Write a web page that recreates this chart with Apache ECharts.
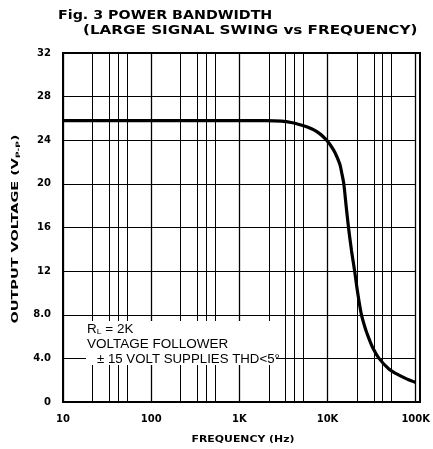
<!DOCTYPE html>
<html>
<head>
<meta charset="utf-8">
<script src="https://cdn.jsdelivr.net/npm/echarts@6/dist/echarts.min.js"></script>
<style>
  html, body { margin: 0; padding: 0; background: #fff; }
  #chart { width: 433px; height: 449px; }
</style>
</head>
<body>
<div id="chart"></div>
<script>
// frequency (Hz) and output voltage (Vp-p)
var freqs = [10, 1000, 2000, 3000, 4000, 5000, 6000, 7000, 8000, 9000, 10000, 11000, 12100, 13800, 14500, 15300, 16300, 17300, 18700, 20300, 22000, 24100, 26000, 28000, 32500, 38400, 50000, 60000, 80000, 100000];
var volts = [25.8, 25.8, 25.8, 25.75, 25.6, 25.4, 25.2, 24.95, 24.65, 24.3, 23.9, 23.45, 22.9, 21.8, 21.0, 20.0, 17.9, 16.0, 13.9, 12.0, 10.0, 8.1, 7.1, 6.3, 5.0, 4.0, 3.0, 2.6, 2.1, 1.8];

// x tick labels at each decade
var xTickValues = [10, 100, 1000, 10000, 100000];
var xTickLabels = ['10', '100', '1K', '10K', '100K'];
// y tick labels
var yTickLabels = {0: '0', 4: '4.0', 8: '8.0', 12: '12', 16: '16', 20: '20', 24: '24', 28: '28', 32: '32'};
// extra vertical grid lines inside each decade (as printed on the sheet)
var minorSteps = [2.16, 3.35, 4.23, 5.33];
var decades = [10, 100, 1000, 10000];

var chart = echarts.init(document.getElementById('chart'));

var minorLines = [];
decades.forEach(function (d) {
  minorSteps.forEach(function (m) {
    minorLines.push({ xAxis: d * m });
  });
});

var points = freqs.map(function (f, i) { return [f, volts[i]]; });

var boldFont = 'DejaVu Sans';

chart.setOption({
  animation: false,
  backgroundColor: '#fff',
  grid: { left: 63, right: 13, top: 53, bottom: 47 },
  xAxis: {
    type: 'log',
    logBase: 10,
    min: 10,
    max: 100000,
    axisLine: { show: true, lineStyle: { color: '#000', width: 2 } },
    axisTick: { show: false },
    splitLine: { show: true, lineStyle: { color: '#000', width: 1.3 } },
    axisLabel: {
      color: '#000',
      fontFamily: boldFont,
      fontWeight: 'bold',
      fontSize: 10,
      margin: 12,
      formatter: function (v) {
        var i = xTickValues.indexOf(Math.round(v));
        return i >= 0 ? xTickLabels[i] : '';
      }
    }
  },
  yAxis: {
    type: 'value',
    min: 0,
    max: 32,
    interval: 4,
    axisLine: { show: true, lineStyle: { color: '#000', width: 2 } },
    axisTick: { show: false },
    splitLine: { show: true, lineStyle: { color: '#000', width: 1.2 } },
    axisLabel: {
      color: '#000',
      fontFamily: boldFont,
      fontWeight: 'bold',
      fontSize: 10,
      margin: 12,
      formatter: function (v) { return yTickLabels[v]; }
    }
  },
  graphic: [
    // frame on right and top
    {
      type: 'rect', z: 50, silent: true,
      shape: { x: 63, y: 53, width: 357, height: 349 },
      style: { fill: 'none', stroke: '#000', lineWidth: 2 }
    },
    {
      type: 'text', left: 58, top: 10, scaleX: 1.24,
      style: { text: 'Fig. 3 POWER BANDWIDTH', font: 'bold 11.5px "DejaVu Sans"', fill: '#000' }
    },
    {
      type: 'text', left: 83, top: 25, scaleX: 1.32,
      style: { text: '(LARGE SIGNAL SWING vs FREQUENCY)', font: 'bold 11.5px "DejaVu Sans"', fill: '#000' }
    },
    {
      type: 'text', x: 16, y: 229, rotation: Math.PI / 2, scaleX: 1.52,
      style: {
        text: '{a|OUTPUT VOLTAGE (V}{s|P-P}{a|)}',
        align: 'center', verticalAlign: 'middle', fill: '#000',
        rich: {
          a: { font: 'bold 9.5px "DejaVu Sans"', fill: '#000' },
          s: { font: 'bold 6px "DejaVu Sans"', fill: '#000', padding: [4, 0, 0, 0] }
        }
      }
    },
    {
      type: 'text', x: 243, y: 440, scaleX: 1.28,
      style: {
        text: 'FREQUENCY (Hz)', font: 'bold 8.5px "DejaVu Sans"', fill: '#000',
        align: 'center', verticalAlign: 'middle'
      }
    },
    // note block with white backing
    {
      type: 'rect', z: 40, silent: true,
      shape: { x: 86, y: 321, width: 190, height: 44 },
      style: { fill: '#fff' }
    },
    {
      type: 'text', z: 45, left: 87, top: 323, scaleX: 1.08,
      style: {
        text: '{a|R}{s|L}{a| = 2K}',
        fill: '#000',
        rich: {
          a: { font: '12.5px "Liberation Sans"', fill: '#000' },
          s: { font: '8px "Liberation Sans"', fill: '#000', padding: [5, 0, 0, 0] }
        }
      }
    },
    {
      type: 'text', z: 45, left: 87, top: 338, scaleX: 1.08,
      style: { text: 'VOLTAGE FOLLOWER', font: '12.5px "Liberation Sans"', fill: '#000' }
    },
    {
      type: 'text', z: 45, left: 97, top: 353, scaleX: 1.06,
      style: { text: '± 15 VOLT SUPPLIES THD<5°', font: '12.5px "Liberation Sans"', fill: '#000' }
    }
  ],
  series: [
    {
      type: 'line',
      data: points,
      smooth: 0.3,
      showSymbol: false,
      z: 60,
      lineStyle: { color: '#000', width: 3.2 },
      markLine: {
        silent: true,
        symbol: 'none',
        label: { show: false },
        lineStyle: { color: '#000', width: 1, type: 'solid' },
        data: minorLines
      }
    }
  ]
});
</script>
</body>
</html>
